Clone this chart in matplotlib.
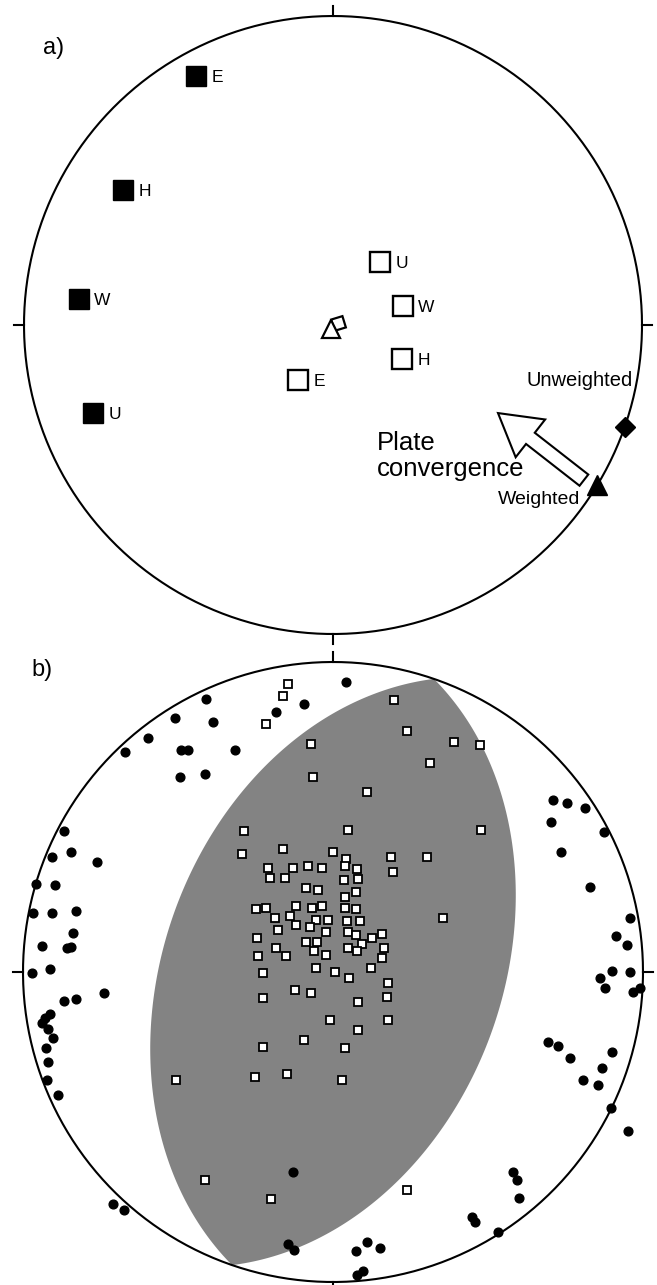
import numpy as np
import matplotlib
matplotlib.use("Agg")
import matplotlib.pyplot as plt
import matplotlib.patches as mpatches

plt.rcParams['font.family'] = ['Liberation Sans', 'DejaVu Sans']

# ---- panel a: positions in net units (primitive radius = 100, x east, y north)
filled_lbl = ['E', 'H', 'W', 'U']
filled_x = [-44.3, -68.0, -82.2, -77.7]
filled_y = [80.6, 43.7, 8.4, -28.5]

open_lbl = ['U', 'W', 'H', 'E']
open_x = [15.2, 22.7, 22.3, -11.3]
open_y = [20.4, 6.1, -11.0, -17.8]

tri_open = (-0.6, -1.3)
sq_rot = (1.6, 0.6)

# horizontal convergence directions (trend, degrees)
unweighted_trend = 109.2
weighted_trend = 121.2

arrow_tail = (81.2, -50.2)
arrow_tip = (53.4, -28.5)

# ---- panel b
dot_x = [4.2, -41.0, -9.4, -18.4, -51.0, -59.7, -38.7, -67.1, -49.0, -46.8,
         -31.6, -49.4, -41.3, -86.8, -90.6, -76.1, -95.8, -89.7, -96.8, -90.6,
         -82.9, -83.9, -93.9, -84.5, -85.8, -91.3, -97.1, -73.9, -86.8, -82.9,
         -91.3, -92.9, -93.9, -91.9, -90.3, -91.9, -92.3, -71.0, -67.4, -14.5,
         -12.6, -12.9, 11.0, 7.4, 15.2, 9.7, 7.7, 44.8, 45.8, 53.2,
         71.0, 75.5, 70.3, 87.4, 73.5, 95.8, 94.8, 90.0, 95.8, 99.0,
         96.8, 87.7, 86.1, 69.4, 72.6, 86.8, 80.6, 85.5, 89.7, 95.2,
         58.1, 59.4, 60.0, 76.5, 82.9, 81.3, 91.3, -92.6, -88.7, -84.5,
         90.0]
dot_y = [93.5, 88.1, 86.5, 83.9, 81.9, 75.5, 80.6, 71.0, 71.6, 71.6,
         71.6, 62.9, 63.9, 45.5, 37.1, 35.5, 28.4, 28.1, 19.0, 19.0,
         19.7, 12.6, 8.4, 8.1, 7.7, 1.0, -0.3, -6.8, -9.4, -8.7,
         -13.5, -14.8, -16.5, -18.4, -21.3, -29.0, -34.8, -74.8, -76.8, -87.7,
         -89.7, -64.5, -87.1, -90.0, -89.0, -96.5, -97.7, -79.0, -80.6, -83.9,
         55.5, 54.5, 48.4, 45.2, 38.7, 17.4, 8.7, 0.3, 0.0, -5.2,
         -6.5, -5.2, -1.9, -22.6, -23.9, -31.0, -34.8, -36.5, -43.9, -51.3,
         -64.5, -67.1, -72.9, -27.7, 27.4, 52.9, 11.6, -24.5, -39.7, 38.7,
         -25.8]

sq_x = [-14.5, -16.1, 19.7, -21.6, 23.9, -7.1, 39.0, 47.4, 31.3, -6.5,
        11.0, -28.7, 47.7, 4.8, -29.4, -16.1, 0.0, 18.7, 30.3, 4.2,
        -21.0, -12.9, -8.1, -3.5, 3.9, 7.7, 19.4, -20.3, -15.5, 3.5,
        8.1, -8.7, -4.8, 3.9, 7.4, -24.8, -21.6, -11.9, -6.8, -3.5,
        3.9, 7.4, -18.7, -13.9, -5.5, -1.6, 4.5, 8.7, 35.5, -2.3,
        -7.4, -24.5, -17.7, -11.9, -8.7, -5.2, 4.8, 7.4, 9.4, 15.8,
        12.6, -18.4, -15.2, -24.2, -6.1, -2.3, 4.8, 7.7, 16.5, 15.8,
        -22.6, -5.5, 0.6, 12.3, 5.2, 17.7, -7.1, 8.1, 17.4, -22.6,
        -12.3, -50.6, -25.2, -14.8, 2.9, -41.3, -20.0, 23.9, 8.1, 17.7,
        -1.0, -9.4, 3.9, -22.6]
sq_y = [92.9, 89.0, 87.7, 80.0, 77.7, 73.5, 74.2, 73.2, 67.4, 62.9,
        58.1, 45.5, 45.8, 45.8, 38.1, 39.7, 38.7, 37.1, 37.1, 36.5,
        33.5, 33.5, 34.2, 33.5, 34.2, 33.2, 32.3, 30.3, 30.3, 29.7,
        30.0, 27.1, 26.5, 24.2, 25.8, 20.3, 20.6, 21.3, 20.6, 21.3,
        20.6, 20.3, 17.4, 18.1, 16.8, 16.8, 16.5, 16.5, 17.4, 12.9,
        14.5, 11.0, 13.5, 15.2, 9.7, 9.7, 12.9, 11.9, 9.0, 12.3,
        11.0, 7.7, 5.2, 5.2, 6.8, 5.5, 7.7, 6.8, 7.7, 4.5,
        -0.3, 1.3, 0.0, 1.3, -1.9, -3.5, -6.8, -9.7, -8.1, -8.4,
        -5.8, -34.8, -33.9, -32.9, -34.8, -67.1, -73.2, -70.3, -18.7, -15.5,
        -15.5, -21.9, -24.5, -24.2]

# shaded zone: between two great circles sharing one strike
shade_strike = 19.0
shade_dip = 44.5


def great_circle(strike, dip, n=181):
    s = np.radians(strike)
    d = np.radians(dip)
    b = np.linspace(0, np.pi, n)
    S = np.array([np.sin(s), np.cos(s), 0.0])
    D = np.array([np.sin(s + np.pi / 2) * np.cos(d),
                  np.cos(s + np.pi / 2) * np.cos(d), np.sin(d)])
    L = np.outer(np.cos(b), S) + np.outer(np.sin(b), D)
    trend = np.arctan2(L[:, 0], L[:, 1])
    plunge = np.arcsin(np.clip(L[:, 2], -1, 1))
    r = 100 * np.sqrt(2) * np.sin((np.pi / 2 - plunge) / 2)
    return r * np.sin(trend), r * np.cos(trend)


def draw_net(ax):
    t = np.linspace(0, 2 * np.pi, 400)
    ax.plot(100 * np.cos(t), 100 * np.sin(t), color='black', lw=1.5, clip_on=False, zorder=5)
    for a in [0, 90, 180, 270]:
        ar = np.radians(a)
        ax.plot([100 * np.sin(ar), 103.3 * np.sin(ar)],
                [100 * np.cos(ar), 103.3 * np.cos(ar)],
                color='black', lw=1.5, clip_on=False, zorder=5)
    ax.set_xlim(-100, 100)
    ax.set_ylim(-100, 100)
    ax.axis('off')


fig = plt.figure(figsize=(6.57, 12.85), dpi=100)
ax1 = fig.add_axes([0.03653, 0.50661, 0.94064, 0.48093])
ax2 = fig.add_axes([0.03501, 0.002335, 0.94368, 0.48249])

# ---------------- a)
draw_net(ax1)
ax1.plot(filled_x, filled_y, 's', ms=14.5, mfc='black', mec='black', clip_on=False)
for lb, x, y in zip(filled_lbl, filled_x, filled_y):
    ax1.annotate(lb, (x, y), xytext=(11, 0), textcoords='offset points',
                 ha='left', va='center_baseline', fontsize=12.5)
ax1.plot(open_x, open_y, 's', ms=14.5, mfc='white', mec='black', mew=1.7)
for lb, x, y in zip(open_lbl, open_x, open_y):
    ax1.annotate(lb, (x, y), xytext=(11, 0), textcoords='offset points',
                 ha='left', va='center_baseline', fontsize=12.5)
ax1.plot(*sq_rot, marker=(4, 0, 62), ms=12, mfc='white', mec='black', mew=1.6)
ax1.plot(*tri_open, '^', ms=13, mfc='white', mec='black', mew=1.6)

ut = np.radians(unweighted_trend)
wt = np.radians(weighted_trend)
ax1.plot(100 * np.sin(ut), 100 * np.cos(ut), 'D', ms=10, color='black', clip_on=False, zorder=6)
ax1.plot(100 * np.sin(wt), 100 * np.cos(wt), '^', ms=15, color='black', clip_on=False, zorder=6)

arr = mpatches.FancyArrow(arrow_tail[0], arrow_tail[1],
                          arrow_tip[0] - arrow_tail[0], arrow_tip[1] - arrow_tail[1],
                          width=4.6, head_width=15.5, head_length=13.3,
                          length_includes_head=True, fc='white', ec='black', lw=1.5)
ax1.add_patch(arr)

ax1.text(97.1, -17.8, 'Unweighted', ha='right', va='center', fontsize=14.5)
ax1.text(79.9, -56.6, 'Weighted', ha='right', va='center', fontsize=14)
ax1.text(14.2, -42.5, 'Plate\nconvergence', ha='left', va='center', fontsize=18.5, linespacing=1.1)
ax1.text(-94.0, 89.6, 'a)', ha='left', va='center', fontsize=17)

# ---------------- b)
draw_net(ax2)
lx, ly = great_circle(shade_strike + 180, shade_dip)
rx, ry = great_circle(shade_strike, shade_dip)
ax2.fill(np.concatenate([lx, rx]), np.concatenate([ly, ry]), color='#838383', lw=0, zorder=1)
ax2.plot(dot_x, dot_y, 'o', ms=6.3, color='black', zorder=3, clip_on=False)
ax2.plot(sq_x, sq_y, 's', ms=5.2, mfc='white', mec='black', mew=1.3, zorder=4)
ax2.text(-97.4, 97.5, 'b)', ha='left', va='center', fontsize=17)

fig.savefig('out.png', dpi=100)
